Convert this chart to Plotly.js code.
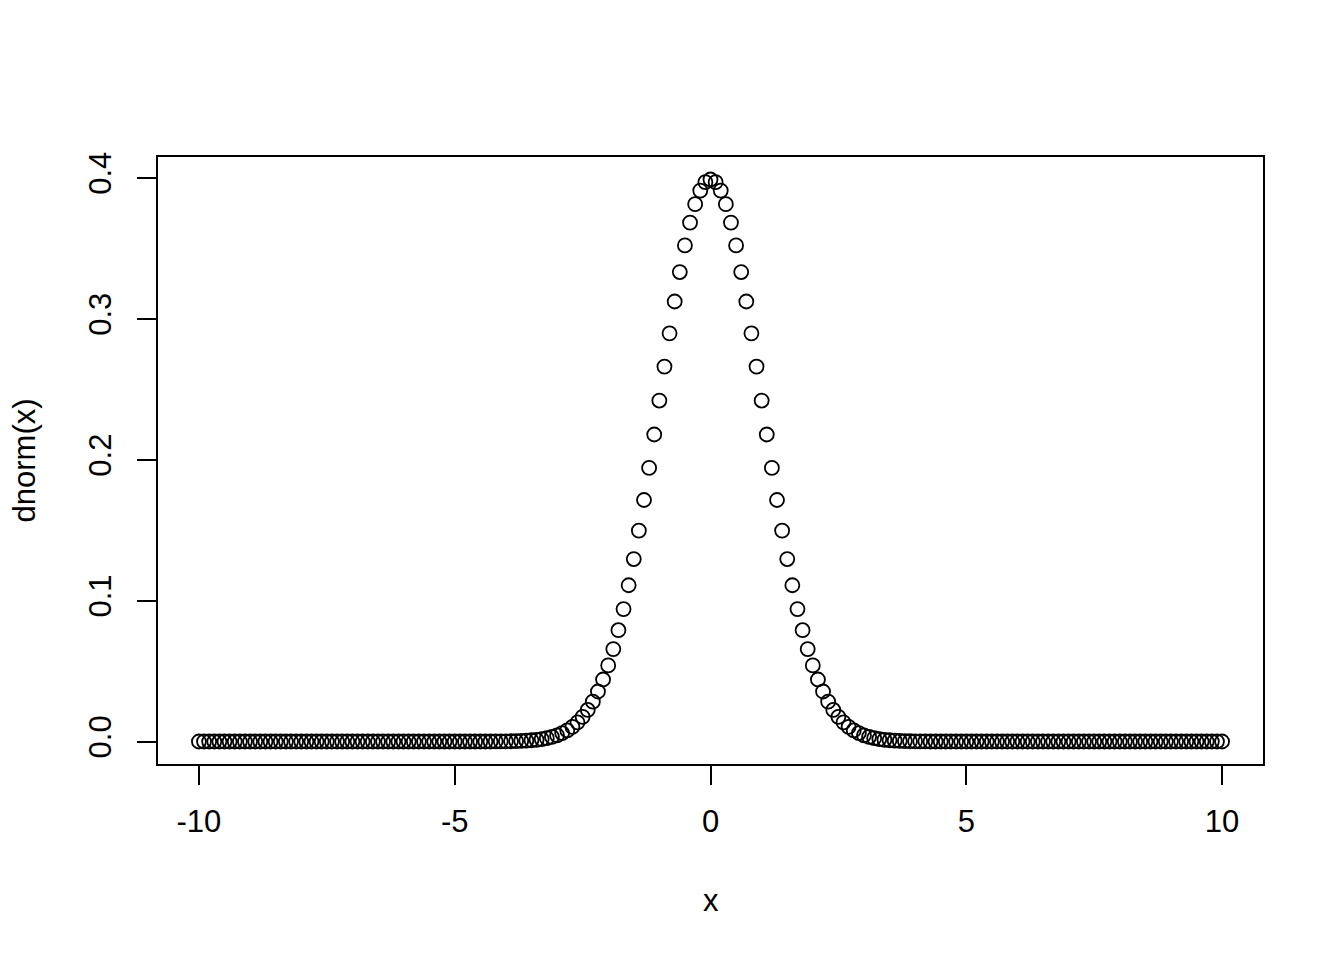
<!DOCTYPE html>
<html>
<head>
<meta charset="utf-8">
<script src="https://cdn.plot.ly/plotly-3.0.1.min.js"></script>
<style>
  html, body { margin: 0; padding: 0; background: #fff; }
  #plot { width: 1344px; height: 960px; }
</style>
</head>
<body>
<div id="plot"></div>
<script>
// x grid: -10 to 10 in steps of 0.1 (a point sits right on 0)
const x_vals = [
  -10.0, -9.9, -9.8, -9.7, -9.6, -9.5, -9.4, -9.3, -9.2, -9.1,
  -9.0, -8.9, -8.8, -8.7, -8.6, -8.5, -8.4, -8.3, -8.2, -8.1,
  -8.0, -7.9, -7.8, -7.7, -7.6, -7.5, -7.4, -7.3, -7.2, -7.1,
  -7.0, -6.9, -6.8, -6.7, -6.6, -6.5, -6.4, -6.3, -6.2, -6.1,
  -6.0, -5.9, -5.8, -5.7, -5.6, -5.5, -5.4, -5.3, -5.2, -5.1,
  -5.0, -4.9, -4.8, -4.7, -4.6, -4.5, -4.4, -4.3, -4.2, -4.1,
  -4.0, -3.9, -3.8, -3.7, -3.6, -3.5, -3.4, -3.3, -3.2, -3.1,
  -3.0, -2.9, -2.8, -2.7, -2.6, -2.5, -2.4, -2.3, -2.2, -2.1,
  -2.0, -1.9, -1.8, -1.7, -1.6, -1.5, -1.4, -1.3, -1.2, -1.1,
  -1.0, -0.9, -0.8, -0.7, -0.6, -0.5, -0.4, -0.3, -0.2, -0.1,
  0.0, 0.1, 0.2, 0.3, 0.4, 0.5, 0.6, 0.7, 0.8, 0.9,
  1.0, 1.1, 1.2, 1.3, 1.4, 1.5, 1.6, 1.7, 1.8, 1.9,
  2.0, 2.1, 2.2, 2.3, 2.4, 2.5, 2.6, 2.7, 2.8, 2.9,
  3.0, 3.1, 3.2, 3.3, 3.4, 3.5, 3.6, 3.7, 3.8, 3.9,
  4.0, 4.1, 4.2, 4.3, 4.4, 4.5, 4.6, 4.7, 4.8, 4.9,
  5.0, 5.1, 5.2, 5.3, 5.4, 5.5, 5.6, 5.7, 5.8, 5.9,
  6.0, 6.1, 6.2, 6.3, 6.4, 6.5, 6.6, 6.7, 6.8, 6.9,
  7.0, 7.1, 7.2, 7.3, 7.4, 7.5, 7.6, 7.7, 7.8, 7.9,
  8.0, 8.1, 8.2, 8.3, 8.4, 8.5, 8.6, 8.7, 8.8, 8.9,
  9.0, 9.1, 9.2, 9.3, 9.4, 9.5, 9.6, 9.7, 9.8, 9.9,
  10.0
];

// density values, estimated from the circles' heights
const dens_vals = [
  0, 0, 0, 0, 0, 0, 0, 0, 0, 0,
  0, 0, 0, 0, 0, 0, 0, 0, 0, 0,
  0, 0, 0, 0, 0, 0, 0, 0, 0, 0,
  0, 0, 0, 0, 0, 0, 0, 0, 0, 0,
  0, 0, 0, 0, 0, 0, 0, 0, 0, 0,
  0, 0, 0, 0, 0, 0, 0, 0, 0.0001, 0.0001,
  0.0001, 0.0002, 0.0003, 0.0004, 0.0006, 0.0009, 0.0012, 0.0017, 0.0024, 0.0033,
  0.0044, 0.0060, 0.0079, 0.0104, 0.0136, 0.0175, 0.0224, 0.0283, 0.0355, 0.0440,
  0.0540, 0.0656, 0.0790, 0.0940, 0.1109, 0.1295, 0.1497, 0.1714, 0.1942, 0.2179,
  0.2420, 0.2661, 0.2897, 0.3123, 0.3332, 0.3521, 0.3683, 0.3814, 0.3910, 0.3970,
  0.3989, 0.3970, 0.3910, 0.3814, 0.3683, 0.3521, 0.3332, 0.3123, 0.2897, 0.2661,
  0.2420, 0.2179, 0.1942, 0.1714, 0.1497, 0.1295, 0.1109, 0.0940, 0.0790, 0.0656,
  0.0540, 0.0440, 0.0355, 0.0283, 0.0224, 0.0175, 0.0136, 0.0104, 0.0079, 0.0060,
  0.0044, 0.0033, 0.0024, 0.0017, 0.0012, 0.0009, 0.0006, 0.0004, 0.0003, 0.0002,
  0.0001, 0.0001, 0.0001, 0, 0, 0, 0, 0, 0, 0,
  0, 0, 0, 0, 0, 0, 0, 0, 0, 0,
  0, 0, 0, 0, 0, 0, 0, 0, 0, 0,
  0, 0, 0, 0, 0, 0, 0, 0, 0, 0,
  0, 0, 0, 0, 0, 0, 0, 0, 0, 0,
  0, 0, 0, 0, 0, 0, 0, 0, 0, 0,
  0
];

const x_ticks = [-10, -5, 0, 5, 10];
// plain hyphens, as in the original (Plotly would use U+2212 otherwise)
const x_tick_text = ['-10', '-5', '0', '5', '10'];
const y_ticks = [0, 0.1, 0.2, 0.3, 0.4];
const y_tick_text = ['0.0', '0.1', '0.2', '0.3', '0.4'];
const x_label = 'x';
const y_label = 'dnorm(x)';

const font_family = 'Liberation Sans, Arial, Helvetica, sans-serif';
const font_size = 31;

const trace = {
    x: x_vals,
    y: dens_vals,
    type: 'scatter',
    mode: 'markers',
    marker: {
        symbol: 'circle-open',
        size: 14,
        color: '#000',
        line: { color: '#000', width: 1.8 }
    },
    hoverinfo: 'skip'
};

const axis_common = {
    showgrid: false,
    zeroline: false,
    showline: true,
    mirror: true,
    linecolor: '#000',
    linewidth: 2,
    ticks: 'outside',
    ticklen: 19,
    tickwidth: 2,
    tickcolor: '#000',
    tickfont: { family: font_family, size: font_size, color: '#000' }
};

const layout = {
    width: 1344,
    height: 960,
    autosize: false,
    paper_bgcolor: '#fff',
    plot_bgcolor: '#fff',
    showlegend: false,
    margin: { l: 158, r: 81, t: 157, b: 196, pad: 0 },
    font: { family: font_family, size: font_size, color: '#000' },
    xaxis: Object.assign({}, axis_common, {
        range: [-10.8, 10.8],
        tickmode: 'array',
        tickvals: x_ticks,
        ticktext: x_tick_text,
        ticklabelstandoff: 10
    }),
    yaxis: Object.assign({}, axis_common, {
        range: [-0.01596, 0.41486],
        tickmode: 'array',
        tickvals: y_ticks,
        ticktext: y_tick_text,
        tickangle: -90,
        ticklabelstandoff: 14
    }),
    annotations: [
        {
            text: x_label, xref: 'paper', yref: 'paper',
            x: 0.5, y: -0.2257, xanchor: 'center', yanchor: 'middle',
            showarrow: false, font: { family: font_family, size: font_size, color: '#000' }
        },
        {
            text: y_label, xref: 'paper', yref: 'paper',
            x: -0.1204, y: 0.5, xanchor: 'center', yanchor: 'middle',
            textangle: -90,
            showarrow: false, font: { family: font_family, size: font_size, color: '#000' }
        }
    ]
};

const config = { displayModeBar: false, staticPlot: true };

Plotly.newPlot('plot', [trace], layout, config);
</script>
</body>
</html>
